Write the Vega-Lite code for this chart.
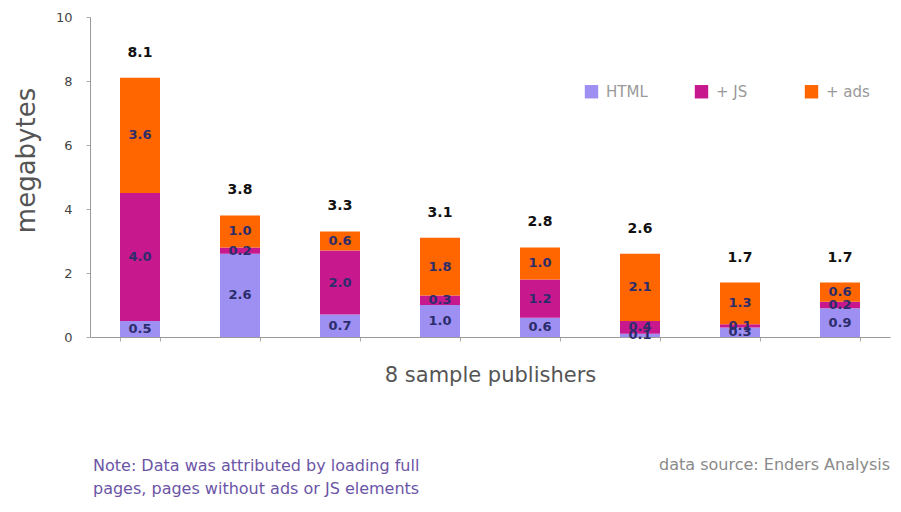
{
  "$schema": "https://vega.github.io/schema/vega-lite/v6.json",
  "width": 800,
  "height": 320,
  "autosize": {"type": "none"},
  "padding": {"left": 90, "top": 17, "right": 11, "bottom": 175},
  "background": "white",
  "config": {"view": {"stroke": null}},
  "title": {
    "text": ["Note: Data was attributed by loading full", "pages, pages without ads or JS elements"],
    "orient": "bottom",
    "anchor": "start",
    "frame": "group",
    "fontSize": 16,
    "font": "DejaVu Sans",
    "fontWeight": "normal",
    "color": "#6b55a6",
    "lineHeight": 23,
    "dx": 3,
    "offset": -15
  },
  "data": {
    "values": [
      {"publisher": "Publisher 1", "series": "HTML", "rank": 1, "value": 0.5},
      {"publisher": "Publisher 1", "series": "+ JS", "rank": 2, "value": 4.0},
      {"publisher": "Publisher 1", "series": "+ ads", "rank": 3, "value": 3.6},
      {"publisher": "Publisher 2", "series": "HTML", "rank": 1, "value": 2.6},
      {"publisher": "Publisher 2", "series": "+ JS", "rank": 2, "value": 0.2},
      {"publisher": "Publisher 2", "series": "+ ads", "rank": 3, "value": 1.0},
      {"publisher": "Publisher 3", "series": "HTML", "rank": 1, "value": 0.7},
      {"publisher": "Publisher 3", "series": "+ JS", "rank": 2, "value": 2.0},
      {"publisher": "Publisher 3", "series": "+ ads", "rank": 3, "value": 0.6},
      {"publisher": "Publisher 4", "series": "HTML", "rank": 1, "value": 1.0},
      {"publisher": "Publisher 4", "series": "+ JS", "rank": 2, "value": 0.3},
      {"publisher": "Publisher 4", "series": "+ ads", "rank": 3, "value": 1.8},
      {"publisher": "Publisher 5", "series": "HTML", "rank": 1, "value": 0.6},
      {"publisher": "Publisher 5", "series": "+ JS", "rank": 2, "value": 1.2},
      {"publisher": "Publisher 5", "series": "+ ads", "rank": 3, "value": 1.0},
      {"publisher": "Publisher 6", "series": "HTML", "rank": 1, "value": 0.1},
      {"publisher": "Publisher 6", "series": "+ JS", "rank": 2, "value": 0.4},
      {"publisher": "Publisher 6", "series": "+ ads", "rank": 3, "value": 2.1},
      {"publisher": "Publisher 7", "series": "HTML", "rank": 1, "value": 0.3},
      {"publisher": "Publisher 7", "series": "+ JS", "rank": 2, "value": 0.1},
      {"publisher": "Publisher 7", "series": "+ ads", "rank": 3, "value": 1.3},
      {"publisher": "Publisher 8", "series": "HTML", "rank": 1, "value": 0.9},
      {"publisher": "Publisher 8", "series": "+ JS", "rank": 2, "value": 0.2},
      {"publisher": "Publisher 8", "series": "+ ads", "rank": 3, "value": 0.6}
    ]
  },
  "encoding": {
    "x": {
      "field": "publisher",
      "type": "nominal",
      "sort": null,
      "scale": {"paddingInner": 0.6, "paddingOuter": 0.3},
      "axis": {
        "title": "8 sample publishers",
        "labels": false,
        "ticks": true,
        "tickBand": "extent",
        "tickSize": 4,
        "tickColor": "#aaaaaa",
        "domainColor": "#999999",
        "titleFont": "DejaVu Sans",
        "titleFontSize": 21,
        "titleFontWeight": "normal",
        "titleColor": "#555555",
        "titlePadding": 23
      }
    }
  },
  "layer": [
    {
      "mark": {"type": "bar"},
      "encoding": {
        "y": {
          "field": "value",
          "type": "quantitative",
          "stack": "zero",
          "scale": {"domain": [0, 10], "nice": false},
          "axis": {
            "title": "megabytes",
            "values": [0, 2, 4, 6, 8, 10],
            "grid": false,
            "domainColor": "#999999",
            "tickColor": "#aaaaaa",
            "tickSize": 4,
            "labelPadding": 14,
            "labelFont": "DejaVu Sans",
            "labelFontSize": 13,
            "labelColor": "#444444",
            "titleFont": "DejaVu Sans",
            "titleFontSize": 26,
            "titleFontWeight": "normal",
            "titleColor": "#555555",
            "titleAngle": -90,
            "titleBaseline": "middle",
            "titleAlign": "center",
            "titleX": -64,
            "titleY": 143
          }
        },
        "color": {
          "field": "series",
          "type": "nominal",
          "scale": {"domain": ["HTML", "+ JS", "+ ads"], "range": ["#9e8ff3", "#c8188e", "#ff6600"]},
          "legend": {
            "title": null,
            "orient": "none",
            "direction": "horizontal",
            "columns": 3,
            "gridAlign": "all",
            "columnPadding": 44,
            "legendX": 494,
            "legendY": 67,
            "symbolType": "square",
            "symbolSize": 180,
            "symbolStrokeWidth": 0,
            "symbolOpacity": 1,
            "labelOffset": 7,
            "labelFont": "DejaVu Sans",
            "labelFontSize": 15,
            "labelColor": "#999999"
          }
        },
        "order": {"field": "rank", "type": "quantitative"}
      }
    },
    {
      "mark": {"type": "text", "font": "DejaVu Sans", "fontSize": 13, "fontWeight": "bold", "color": "#2b2d6b", "baseline": "middle"},
      "encoding": {
        "y": {"field": "value", "type": "quantitative", "stack": "zero", "bandPosition": 0.5},
        "text": {"field": "value", "type": "quantitative", "format": ".1f"},
        "detail": {"field": "series"},
        "order": {"field": "rank", "type": "quantitative"}
      }
    },
    {
      "mark": {"type": "text", "font": "DejaVu Sans", "fontSize": 14, "fontWeight": "bold", "color": "#111111", "baseline": "middle", "dy": -25},
      "encoding": {
        "y": {"aggregate": "sum", "field": "value", "type": "quantitative"},
        "text": {"aggregate": "sum", "field": "value", "type": "quantitative", "format": ".1f"}
      }
    },
    {
      "data": {"values": [{"t": "data source: Enders Analysis"}]},
      "mark": {"type": "text", "font": "DejaVu Sans", "fontSize": 16, "color": "#8a8a8a", "align": "right", "baseline": "middle", "dx": 50},
      "encoding": {
        "x": {"datum": "Publisher 8", "type": "nominal"},
        "y": {"datum": -4.0, "type": "quantitative"},
        "text": {"field": "t", "type": "nominal"}
      }
    }
  ]
}
